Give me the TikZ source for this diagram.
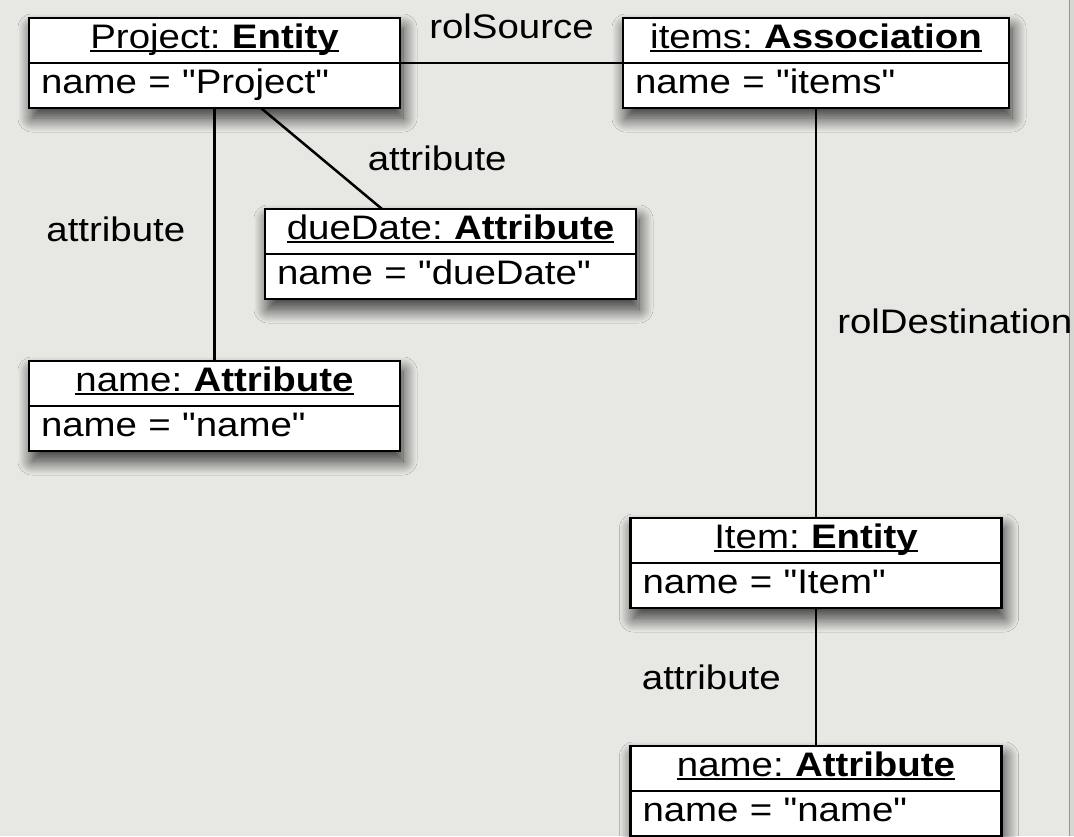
\documentclass[tikz,border=0pt]{standalone}
\usepackage{fontspec}
\setmainfont{Liberation Sans}[FakeStretch=1.13, Ligatures=TeXOff]
\usepackage{tikz}
\usetikzlibrary{positioning, fit, backgrounds, shadows.blur}

\definecolor{canvas}{RGB}{231,231,227}
\definecolor{edgestrip}{RGB}{214,214,210}
\definecolor{edgeline}{RGB}{150,150,148}

% underlined object heading: instance name, bold class name
\newcommand{\ulhead}[2]{\setbox0\hbox{#1:\ \textbf{#2}}\rlap{\copy0}\rule[-4pt]{\wd0}{2.2pt}}

\begin{document}
\begin{tikzpicture}[
    x=1pt, y=-1pt,
    objtitle/.style={rectangle, draw, fill=white, line width=2.7pt, inner xsep=12pt, inner ysep=3pt,
        text width=#1, text height=27pt, text depth=12pt, align=center, outer sep=0pt,
        font=\fontsize{34}{40}\selectfont},
    objtitle/.default=347pt,
    objattr/.style={objtitle=#1, align=left},
    objattr/.default=347pt,
    link/.style={line width=2.5pt},
    lbl/.style={inner sep=0pt, font=\fontsize{34}{40}\selectfont},
    shadowbox/.style={fill=white, inner sep=0pt,
        blur shadow={shadow xshift=3pt, shadow yshift=-10pt, shadow blur radius=14pt,
            shadow blur steps=24, shadow opacity=80}}
]
\useasboundingbox (0,0) rectangle (1074,836);

% Project entity and its attributes
\node[objtitle] (proj) at (214.5,40.5) {\ulhead{Project}{Entity}};
\node[objattr, below=0pt of proj] (projval) {name = "Project"};

\node[objtitle, below=101pt of projval, xshift=236pt] (due) {\ulhead{dueDate}{Attribute}};
\node[objattr, below=0pt of due] (dueval) {name = "dueDate"};

\node[objtitle, below=253pt of projval] (pname) {\ulhead{name}{Attribute}};
\node[objattr, below=0pt of pname] (pnameval) {name = "name"};

% Association and the entity it points to
\node[objtitle=362pt, right=223pt of proj] (assoc) {\ulhead{items}{Association}};
\node[objattr=362pt, below=0pt of assoc] (assocval) {name = "items"};

\node[objtitle, below=410pt of assocval] (item) {\ulhead{Item}{Entity}};
\node[objattr, below=0pt of item] (itemval) {name = "Item"};

\node[objtitle, below=138pt of itemval] (iname) {\ulhead{name}{Attribute}};
\node[objattr, below=0pt of iname] (inameval) {name = "name"};

% Links
\draw[link] (proj.south east) -- node[lbl, above=23pt] {rolSource} (assoc.south west);
\draw[link] (projval.south) -- node[lbl, left=28pt, pos=0.48] {attribute} (pname.north);
\draw[link] ([xshift=46.5pt]projval.south) -- node[lbl, right=45pt] {attribute} ([xshift=-68.5pt]due.north);
\draw[link] (assocval.south) -- node[lbl, right=20pt, pos=0.52] {rolDestination} (item.north);
\draw[link] (itemval.south) -- node[lbl, left=34pt] {attribute} (iname.north);

% Canvas and shadows
\begin{scope}[on background layer]
    \fill[canvas] (0,0) rectangle (1074,836);
    \fill[edgestrip] (1069,0) rectangle (1074,836);
    \draw[edgeline, line width=1pt] (1069,0) -- (1069,836);
    \node[shadowbox, fit=(proj)(projval)] {};
    \node[shadowbox, fit=(due)(dueval)] {};
    \node[shadowbox, fit=(pname)(pnameval)] {};
    \node[shadowbox, fit=(assoc)(assocval)] {};
    \node[shadowbox, fit=(item)(itemval)] {};
    \node[shadowbox, fit=(iname)(inameval)] {};
\end{scope}

\end{tikzpicture}
\end{document}
